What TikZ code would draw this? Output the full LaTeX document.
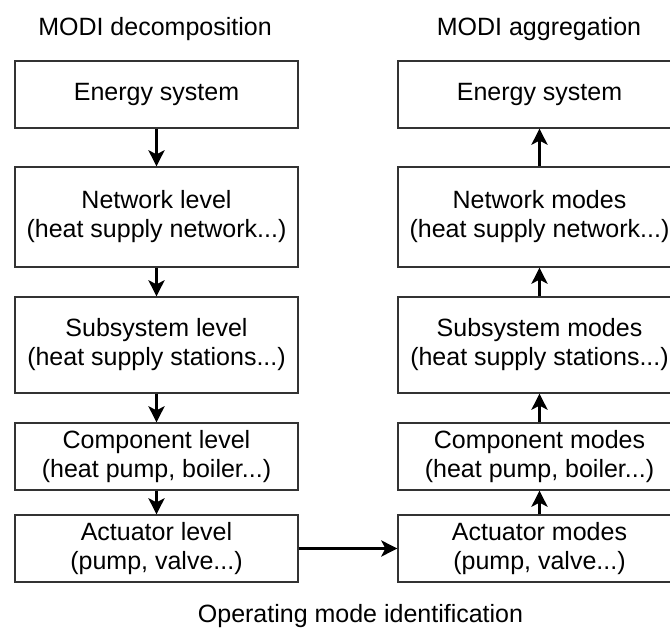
\documentclass[tikz,border=0pt]{standalone}
\usepackage{fontspec}
\setmainfont{Liberation Sans}
\usetikzlibrary{arrows.meta,positioning}

\begin{document}
\begin{tikzpicture}[x=1pt,y=1pt,>={Stealth[length=16pt,width=16pt,inset=4pt]},
  lvlbox/.style={draw=black!80,line width=1.3pt,minimum width=283pt,minimum height=67pt,align=center,inner sep=0pt,font=\fontsize{25}{29}\selectfont},
  flow/.style={->,line width=3.6pt},
  caption/.style={anchor=base,inner sep=0pt,font=\fontsize{25}{29}\selectfont}]
\clip (0,0) rectangle (670,633);
% MODI decomposition
\node[caption] (tdec) at (155,597) {MODI decomposition};
\node[lvlbox] (des) at (156.5,538.5) {Energy system};
\node[lvlbox,minimum height=100pt] (dnet) at (156.5,416) {Network level\\(heat supply network...)};
\node[lvlbox,minimum height=96pt] (dsub) at (156.5,288) {Subsystem level\\(heat supply stations...)};
\node[lvlbox] (dcomp) at (156.5,176.5) {Component level\\(heat pump, boiler...)};
\node[lvlbox] (dact) at (156.5,84.5) {Actuator level\\(pump, valve...)};
\draw[flow] (des.south)--(dnet.north);
\draw[flow] (dnet.south)--(dsub.north);
\draw[flow] (dsub.south)--(dcomp.north);
\draw[flow] (dcomp.south)--(dact.north);
% MODI aggregation
\node[caption] (tagg) at (539,597) {MODI aggregation};
\node[lvlbox] (aes) at (539.5,538.5) {Energy system};
\node[lvlbox,minimum height=100pt] (anet) at (539.5,416) {Network modes\\(heat supply network...)};
\node[lvlbox,minimum height=96pt] (asub) at (539.5,288) {Subsystem modes\\(heat supply stations...)};
\node[lvlbox] (acomp) at (539.5,176.5) {Component modes\\(heat pump, boiler...)};
\node[lvlbox] (aact) at (539.5,84.5) {Actuator modes\\(pump, valve...)};
\draw[flow] (aact.north)--(acomp.south);
\draw[flow] (acomp.north)--(asub.south);
\draw[flow] (asub.north)--(anet.south);
\draw[flow] (anet.north)--(aes.south);
\draw[flow] (dact.east)--(aact.west);
\node[caption] (tomi) at (360.5,11) {Operating mode identification};
\end{tikzpicture}
\end{document}
